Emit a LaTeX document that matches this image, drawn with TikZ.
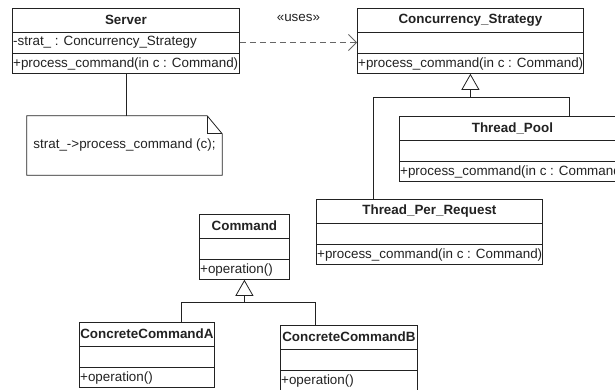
\documentclass[tikz,border=0pt]{standalone}
\usepackage{fontspec}
\setmainfont{Liberation Sans}
\usetikzlibrary{arrows.meta,calc}
\definecolor{Ink}{HTML}{222222}
\definecolor{Dash}{HTML}{666666}

% one UML class: id, top left (px), width (px), name, attribute, operation
\newcommand{\umlclass}[6]{%
  \node[umlbox,minimum width=#3pt,anchor=north west] (#1) at (#2) {};
  \draw[umlline] ([yshift=-24pt]#1.north west) -- ([yshift=-24pt]#1.north east);
  \draw[umlline] ([yshift=20pt]#1.south west) -- ([yshift=20pt]#1.south east);
  \node[umltext,font=\umlfont\bfseries] (#1-name) at ([yshift=-12pt]#1.north) {#4};
  \node[umltext,anchor=west] (#1-attr) at ([yshift=-34.5pt]#1.north west) {#5};
  \node[umltext,anchor=west] (#1-op) at ([yshift=10pt]#1.south west) {#6};
}
\newcommand{\umlfont}{\fontsize{13.4}{16}\selectfont}

\begin{document}
\begin{tikzpicture}[x=1pt,y=-1pt,
    umlline/.style={draw=Ink,line width=0.8pt},
    umlbox/.style={umlline,fill=white,minimum height=65pt,inner sep=0pt},
    umltext/.style={text=Ink,font=\umlfont,inner sep=1pt},
    uses/.style={draw=Dash,line width=0.8pt,dash pattern=on 6pt off 4pt,
      -{Straight Barb[length=8pt,width=16pt]}},
    inherit/.style={umlline,-{Triangle[length=16pt,width=18pt,fill=white]}}]
  \useasboundingbox (0,0) rectangle (615,389);

  \umlclass{srv}{12,8}{227}{Server}{-strat\_ : Concurrency\_Strategy}{+process\_command(in c : Command)}
  \umlclass{cs}{357,8}{226}{Concurrency\_Strategy}{}{+process\_command(in c : Command)}
  \umlclass{tp}{399,116}{226}{Thread\_Pool}{}{+process\_command(in c : Command)}
  \umlclass{tpr}{316,199}{226}{Thread\_Per\_Request}{}{+process\_command(in c : Command)}
  \umlclass{cmd}{199,214}{90}{Command}{}{+operation()}
  \umlclass{cca}{79,322}{135}{ConcreteCommandA}{}{+operation()}
  \umlclass{ccb}{280,325}{137}{ConcreteCommandB}{}{+operation()}

  % note with folded corner
  \node[umltext,minimum width=195pt,minimum height=59pt] (note) at (124.5,145.5)
    {strat\_->process\_command (c);};
  \draw[umlline] (note.north west) -- ([xshift=-15pt]note.north east)
    -- ([yshift=-18pt]note.north east) -- (note.south east) -- (note.south west) -- cycle;
  \draw[umlline] ([xshift=-15pt]note.north east) |- ([yshift=-18pt]note.north east);
  \draw[umlline] (srv.south) -- (srv.south |- note.north);

  % dependency
  \draw[uses] (srv-attr.east -| srv.east) -- (srv-attr.east -| cs.west)
    node[midway,above=19pt,umltext] (uses) {«uses»};

  % strategy hierarchy
  \coordinate (csj) at ([yshift=-24pt]cs.south);
  \coordinate (tpr-in) at ([xshift=57pt]tpr.north west);
  \coordinate (tp-in) at ([xshift=170pt]tp.north west);
  \draw[inherit] (csj) -- (cs.south);
  \draw[umlline] (tpr-in) |- (csj) -| (tp-in);

  % command hierarchy
  \coordinate (cmdj) at ([yshift=-23pt]cmd.south);
  \coordinate (cca-in) at ([xshift=102pt]cca.north west);
  \coordinate (ccb-in) at ([xshift=35pt]ccb.north west);
  \draw[inherit] (cmdj) -- (cmd.south);
  \draw[umlline] (cca-in) |- (cmdj) -| (ccb-in);
\end{tikzpicture}
\end{document}
